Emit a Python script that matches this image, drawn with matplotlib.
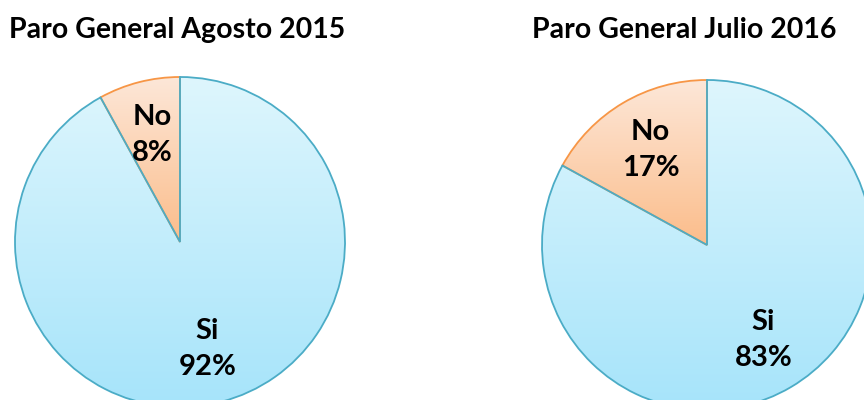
import numpy as np
import matplotlib
matplotlib.use("Agg")
import matplotlib.pyplot as plt
from matplotlib.colors import LinearSegmentedColormap

titles = ["Paro General Agosto 2015", "Paro General Julio 2016"]
categories = ["No", "Si"]
values_2015 = [8, 92]
values_2016 = [17, 83]
series = [values_2015, values_2016]

edge_colors = {"No": "#f79646", "Si": "#4bacc6"}
grad = {
    "No": ("#fde7d8", "#fbbd8b"),
    "Si": ("#def6fd", "#a6e4fa"),
}

fig = plt.figure(figsize=(8.64, 4.0), dpi=100)
ax = fig.add_axes([0, 0, 1, 1])
ax.set_xlim(0, 864)
ax.set_ylim(0, 400)
ax.axis("off")

centers = [(180, 158), (707, 155)]
radius = 165
title_pos = [(9, 370), (532, 370)]

for vals, title, c, tp in zip(series, titles, centers, title_pos):
    wedges, texts = ax.pie(
        vals,
        labels=[f"{cat}\n{v}%" for cat, v in zip(categories, vals)],
        labeldistance=0.67,
        startangle=90,
        counterclock=True,
        center=c,
        radius=radius,
        frame=True,
        wedgeprops=dict(linewidth=1.3),
        textprops=dict(fontsize=21, fontweight="bold", family="Lato",
                       ha="center", va="center", linespacing=1.5),
    )
    for w, cat in zip(wedges, categories):
        w.set_facecolor("none")
        w.set_edgecolor(edge_colors[cat])
        w.set_zorder(3)
        verts = w.get_path().vertices
        path = w.get_patch_transform().transform(verts)
        ymin, ymax = path[:, 1].min(), path[:, 1].max()
        xmin, xmax = path[:, 0].min(), path[:, 0].max()
        cmap = LinearSegmentedColormap.from_list("g", [grad[cat][1], grad[cat][0]])
        g = np.linspace(0, 1, 256).reshape(-1, 1)
        im = ax.imshow(g, cmap=cmap, extent=(xmin, xmax, ymin, ymax),
                       origin="lower", aspect="auto", zorder=2)
        im.set_clip_path(w)
    for t in texts:
        t.set_zorder(5)
        t.set_color("black")
    ax.text(tp[0], tp[1], title, fontsize=20.5, fontweight="bold", family="Lato",
            ha="left", va="center", color="black")

ax.set_xlim(0, 864)
ax.set_ylim(0, 400)
ax.set_aspect("equal")
ax.axis("off")
fig.savefig("out.png", dpi=100)
